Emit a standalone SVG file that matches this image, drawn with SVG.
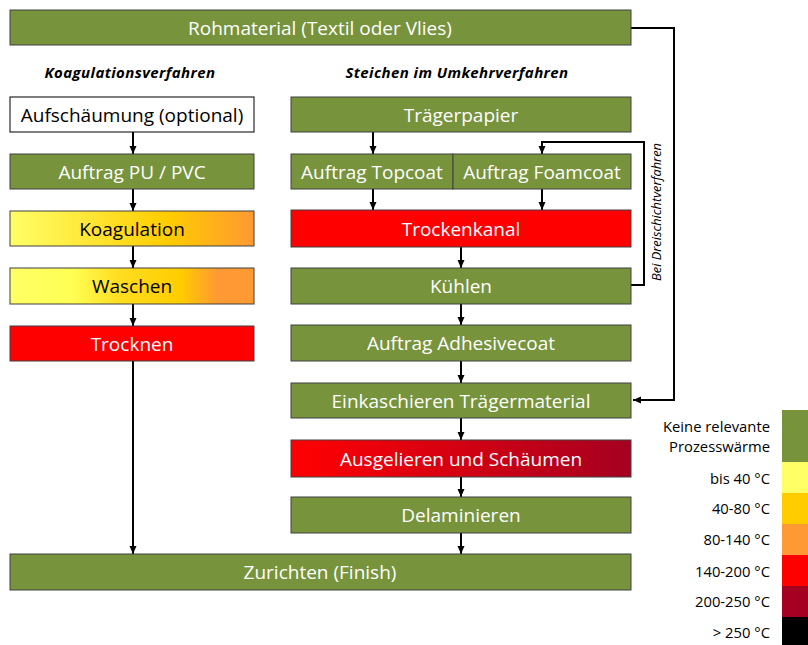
<svg xmlns="http://www.w3.org/2000/svg" width="808" height="645" viewBox="0 0 808 645">
  <style>
    .box { stroke: #404040; stroke-width: 1; }
    .green { fill: #77933C; }
    .red { fill: #FF0000; }
    .lbl { font-family: "Open Sans", Lato, sans-serif; font-size: 19px; text-anchor: middle; dominant-baseline: central; }
    .w { fill: #FFFFFF; }
    .k { fill: #000000; }
    .head { font-family: "Open Sans", Lato, sans-serif; font-size: 15px; letter-spacing: 0.4px; font-weight: bold; font-style: italic; text-anchor: middle; fill: #000; }
    .leg { font-family: "Open Sans", Lato, sans-serif; font-size: 14.8px; text-anchor: end; fill: #000; }
    .conn { fill: none; stroke: #000; stroke-width: 2; }
  </style>
  <defs>
    <marker id="arrow" markerUnits="userSpaceOnUse" markerWidth="8" markerHeight="8" viewBox="0 0 8 8" refX="8" refY="4" orient="auto">
      <path d="M0,0.5 L8,4 L0,7.5 Z" fill="#000"/>
    </marker>
    <linearGradient id="gKoag" x1="0" y1="0" x2="1" y2="0">
      <stop offset="0" stop-color="#FFFF66"/>
      <stop offset="0.2" stop-color="#FFF04A"/>
      <stop offset="0.65" stop-color="#FFCC00"/>
      <stop offset="1" stop-color="#FF9933"/>
    </linearGradient>
    <linearGradient id="gWasch" x1="0" y1="0" x2="1" y2="0">
      <stop offset="0" stop-color="#FFFF66"/>
      <stop offset="0.25" stop-color="#FFFF55"/>
      <stop offset="0.45" stop-color="#FFDD20"/>
      <stop offset="0.7" stop-color="#FFCC00"/>
      <stop offset="0.85" stop-color="#FF9933"/>
      <stop offset="1" stop-color="#FF9933"/>
    </linearGradient>
    <linearGradient id="gGel" x1="0" y1="0" x2="1" y2="0">
      <stop offset="0" stop-color="#FF0000"/>
      <stop offset="0.15" stop-color="#F20008"/>
      <stop offset="1" stop-color="#A50021"/>
    </linearGradient>
  </defs>

  <!-- section headings -->
  <text class="head" x="130" y="78">Koagulationsverfahren</text>
  <text class="head" x="457" y="78">Steichen im Umkehrverfahren</text>

  <!-- connectors -->
  <g id="connectors">
    <!-- left column -->
    <line class="conn" x1="133" y1="132" x2="133" y2="154" marker-end="url(#arrow)"/>
    <line class="conn" x1="133" y1="189" x2="133" y2="211" marker-end="url(#arrow)"/>
    <line class="conn" x1="133" y1="246" x2="133" y2="268" marker-end="url(#arrow)"/>
    <line class="conn" x1="133" y1="304" x2="133" y2="326" marker-end="url(#arrow)"/>
    <line class="conn" x1="133" y1="361" x2="133" y2="554" marker-end="url(#arrow)"/>
    <!-- right column -->
    <line class="conn" x1="373" y1="132" x2="373" y2="154" marker-end="url(#arrow)"/>
    <line class="conn" x1="373" y1="189" x2="373" y2="210" marker-end="url(#arrow)"/>
    <line class="conn" x1="542" y1="189" x2="542" y2="210" marker-end="url(#arrow)"/>
    <line class="conn" x1="461" y1="247" x2="461" y2="268" marker-end="url(#arrow)"/>
    <line class="conn" x1="461" y1="304" x2="461" y2="325" marker-end="url(#arrow)"/>
    <line class="conn" x1="461" y1="361" x2="461" y2="383" marker-end="url(#arrow)"/>
    <line class="conn" x1="461" y1="418" x2="461" y2="440" marker-end="url(#arrow)"/>
    <line class="conn" x1="461" y1="477" x2="461" y2="497" marker-end="url(#arrow)"/>
    <line class="conn" x1="461" y1="533" x2="461" y2="554" marker-end="url(#arrow)"/>
    <!-- three-layer loop back to foamcoat -->
    <polyline class="conn" points="631,285 644,285 644,142 542,142 542,154" marker-end="url(#arrow)"/>
    <!-- raw material feed to lamination -->
    <polyline class="conn" points="631,28 674,28 674,400 633,400" marker-end="url(#arrow)"/>
  </g>
  <text x="0" y="0" transform="translate(661,212) rotate(-90)" font-family="'Open Sans', Lato, sans-serif" font-size="12.8" font-style="italic" text-anchor="middle" fill="#000">Bei Dreischichtverfahren</text>

  <!-- nodes -->
  <g id="rohmaterial">
    <rect class="box green" x="10" y="10" width="621" height="35"/>
    <text class="lbl w" x="320" y="27.5">Rohmaterial (Textil oder Vlies)</text>
  </g>
  <g id="aufschaeumung">
    <rect x="10" y="97" width="244" height="35" fill="#FFFFFF" stroke="#000" stroke-width="1"/>
    <text class="lbl k" x="132" y="114.5">Aufschäumung (optional)</text>
  </g>
  <g id="auftrag-pu-pvc">
    <rect class="box green" x="10" y="154" width="244" height="35"/>
    <text class="lbl w" x="132" y="171.5">Auftrag PU / PVC</text>
  </g>
  <g id="koagulation">
    <rect class="box" x="10" y="211" width="244" height="35" fill="url(#gKoag)"/>
    <text class="lbl k" x="132" y="228.5">Koagulation</text>
  </g>
  <g id="waschen">
    <rect class="box" x="10" y="268" width="244" height="36" fill="url(#gWasch)"/>
    <text class="lbl k" x="132" y="286">Waschen</text>
  </g>
  <g id="trocknen">
    <rect class="box red" x="10" y="326" width="244" height="35"/>
    <text class="lbl w" x="132" y="343.5">Trocknen</text>
  </g>
  <g id="traegerpapier">
    <rect class="box green" x="291" y="97" width="340" height="35"/>
    <text class="lbl w" x="461" y="114.5">Trägerpapier</text>
  </g>
  <g id="auftrag-topcoat">
    <rect class="box green" x="291" y="154" width="162" height="35"/>
    <text class="lbl w" x="372" y="171.5">Auftrag Topcoat</text>
  </g>
  <g id="auftrag-foamcoat">
    <rect class="box green" x="453" y="154" width="178" height="35"/>
    <text class="lbl w" x="542" y="171.5">Auftrag Foamcoat</text>
  </g>
  <g id="trockenkanal">
    <rect class="box red" x="291" y="210" width="340" height="37"/>
    <text class="lbl w" x="461" y="228.5">Trockenkanal</text>
  </g>
  <g id="kuehlen">
    <rect class="box green" x="291" y="268" width="340" height="36"/>
    <text class="lbl w" x="461" y="286">Kühlen</text>
  </g>
  <g id="auftrag-adhesivecoat">
    <rect class="box green" x="291" y="325" width="340" height="36"/>
    <text class="lbl w" x="461" y="343">Auftrag Adhesivecoat</text>
  </g>
  <g id="einkaschieren">
    <rect class="box green" x="291" y="383" width="340" height="35"/>
    <text class="lbl w" x="461" y="400.5">Einkaschieren Trägermaterial</text>
  </g>
  <g id="ausgelieren">
    <rect class="box" x="291" y="440" width="340" height="37" fill="url(#gGel)"/>
    <text class="lbl w" x="461" y="458.5">Ausgelieren und Schäumen</text>
  </g>
  <g id="delaminieren">
    <rect class="box green" x="291" y="497" width="340" height="36"/>
    <text class="lbl w" x="461" y="515">Delaminieren</text>
  </g>
  <g id="zurichten">
    <rect class="box green" x="10" y="554" width="621" height="36"/>
    <text class="lbl w" x="320" y="572">Zurichten (Finish)</text>
  </g>

  <!-- legend -->
  <g id="legend">
    <rect x="782" y="410" width="26" height="52" fill="#77933C"/>
    <rect x="782" y="462" width="26" height="31" fill="#FFFF66"/>
    <rect x="782" y="493" width="26" height="31" fill="#FFCC00"/>
    <rect x="782" y="524" width="26" height="31" fill="#FF9933"/>
    <rect x="782" y="555" width="26" height="31" fill="#FF0000"/>
    <rect x="782" y="586" width="26" height="31" fill="#A50021"/>
    <rect x="782" y="617" width="26" height="28" fill="#000000"/>
    <text class="leg" x="770" y="432">Keine relevante</text>
    <text class="leg" x="770" y="452">Prozesswärme</text>
    <text class="leg" x="770" y="484">bis 40 °C</text>
    <text class="leg" x="770" y="514">40-80 °C</text>
    <text class="leg" x="770" y="545">80-140 °C</text>
    <text class="leg" x="770" y="577">140-200 °C</text>
    <text class="leg" x="770" y="607">200-250 °C</text>
    <text class="leg" x="770" y="638">&gt; 250 °C</text>
  </g>
</svg>
